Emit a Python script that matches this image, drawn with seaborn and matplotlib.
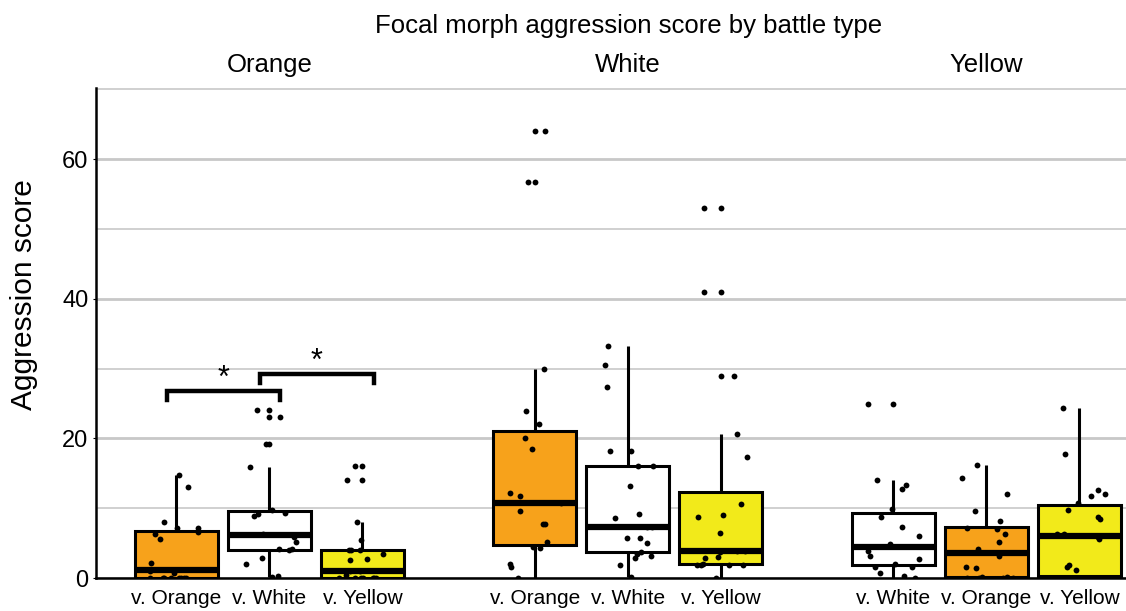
import numpy as np
import pandas as pd
import seaborn as sns
import matplotlib.pyplot as plt

# focal morph groups and the opponent morph of each box (left to right)
focal_groups = ["Orange", "White", "Yellow"]
opponents = ["Orange", "White", "Yellow",
             "Orange", "White", "Yellow",
             "White", "Orange", "Yellow"]
tick_labels = ["v. " + o for o in opponents]
positions = [0, 1, 2, 3.85, 4.85, 5.85, 7.7, 8.7, 9.7]

# aggression scores
orange_v_orange = [14.8, 13.0, 8.0, 7.2, 7.1, 6.6, 6.3, 5.6, 2.1, 1.2, 1.0, 0.7,
                   0, 0, 0, 0, 0, 0, 0, 0]
orange_v_white = [24.0, 23.0, 19.2, 15.9, 9.7, 9.3, 9.2, 8.9, 6.3, 5.9, 5.2,
                  4.2, 4.2, 4.0, 2.9, 2.0, 0.3, 0.2]
orange_v_yellow = [16.0, 14.0, 8.0, 5.4, 4.0, 4.0, 4.0, 3.4, 2.7, 2.6, 1.0, 1.0,
                   0.5, 0, 0, 0, 0, 0, 0, 0, 0]
white_v_orange = [64.0, 56.8, 30.0, 23.9, 22.0, 20.1, 18.5, 12.2, 11.7, 10.7, 9.6,
                  7.7, 7.7, 5.2, 4.4, 4.3, 2.0, 1.6, 0]
white_v_white = [33.2, 30.5, 27.4, 18.2, 18.2, 16.0, 16.0, 13.2, 9.2, 8.6, 7.3, 7.3,
                 5.8, 5.8, 5.0, 3.7, 3.4, 3.2, 2.9, 1.8, 0.2]
white_v_yellow = [53.0, 41.0, 29.0, 20.6, 17.3, 10.6, 9.0, 8.7, 6.5, 3.9, 3.9, 3.7,
                  3.0, 2.8, 2.0, 1.8, 1.8, 1.8, 1.8, 0]
yellow_v_white = [24.9, 14.0, 13.3, 12.75, 9.9, 8.8, 7.3, 6.0, 4.9, 4.4, 3.9, 3.1,
                  2.7, 2.0, 1.6, 1.6, 0.76, 0.3, 0]
yellow_v_orange = [16.2, 14.3, 12.1, 9.6, 8.2, 7.1, 7.0, 6.3, 5.1, 4.2, 3.1, 1.6,
                   1.5, 0.2, 0.2, 0, 0, 0, 0, 0]
yellow_v_yellow = [24.3, 17.7, 12.6, 12.1, 11.7, 10.8, 9.7, 8.8, 8.5, 6.3, 6.25,
                   5.9, 5.6, 1.9, 1.6, 1.2, 0, 0, 0, 0, 0, 0]

scores = [orange_v_orange, orange_v_white, orange_v_yellow,
          white_v_orange, white_v_white, white_v_yellow,
          yellow_v_white, yellow_v_orange, yellow_v_yellow]

# significance brackets: (left box, right box, height)
brackets = [(0, 1, 26.8), (1, 2, 29.2)]

rows = []
for pos, opp, vals in zip(positions, opponents, scores):
    for v in vals:
        rows.append({"pos": pos, "opponent": opp, "score": v})
df = pd.DataFrame(rows)

palette = {"Orange": "#f7a21b", "White": "white", "Yellow": "#f2ea1a"}

plt.rcParams["font.family"] = ["Liberation Sans", "DejaVu Sans"]
fig = plt.figure(figsize=(11.26, 6.11), dpi=100)
ax = fig.add_axes([0.0853, 0.054, 0.9147, 0.802])

sns.boxplot(data=df, x="pos", y="score", hue="opponent", palette=palette,
            native_scale=True, dodge=False, width=0.89, saturation=1,
            linecolor="black", linewidth=2.2, legend=False,
            medianprops=dict(linewidth=4.5, color="black"),
            capprops=dict(linewidth=0),
            flierprops=dict(marker="o", markersize=4.2, markerfacecolor="black",
                            markeredgecolor="black", markeredgewidth=0),
            ax=ax)

np.random.seed(3)
sns.stripplot(data=df, x="pos", y="score", native_scale=True, color="black",
              jitter=0.3, size=4.2, ax=ax, zorder=5)

# brackets with stars
for a, b, h in brackets:
    x0 = positions[a] - 0.1
    x1 = positions[b] + 0.12
    ax.plot([x0, x0, x1, x1], [h - 1.3, h, h, h - 1.3], color="black", lw=3.2,
            solid_joinstyle="miter", zorder=6)
    ax.text((x0 + x1) / 2, h - 0.4, "*", ha="center", va="bottom", fontsize=22)

ax.set_xlim(-0.86, 10.2)
ax.set_ylim(0, 70.2)
ax.set_xticks(positions)
ax.set_xticklabels(tick_labels, fontsize=15)
ax.set_yticks([0, 20, 40, 60])
ax.set_yticks([10, 30, 50, 70], minor=True)
ax.tick_params(axis="y", labelsize=17, length=2, width=0.8)
ax.tick_params(axis="y", which="minor", length=0)
ax.tick_params(axis="x", length=0, pad=8)
ax.yaxis.grid(True, which="major", color="#c8c8c8", lw=2)
ax.yaxis.grid(True, which="minor", color="#c8c8c8", lw=1.2)
ax.set_axisbelow(True)
ax.set_xlabel("")
ax.set_ylabel("Aggression score", fontsize=21.5)
ax.yaxis.set_label_coords(-0.056, 0.578)

for s in ["top", "right"]:
    ax.spines[s].set_visible(False)
ax.spines["left"].set_linewidth(1.8)
ax.spines["bottom"].set_linewidth(1.8)

# facet titles
for i, name in enumerate(focal_groups):
    ax.text(positions[3 * i + 1], 1.047, name, transform=ax.get_xaxis_transform(),
            ha="center", va="center", fontsize=18.5)
fig.text(0.558, 0.958, "Focal morph aggression score by battle type",
         ha="center", va="center", fontsize=18.5)

fig.savefig("out.png", dpi=100)
